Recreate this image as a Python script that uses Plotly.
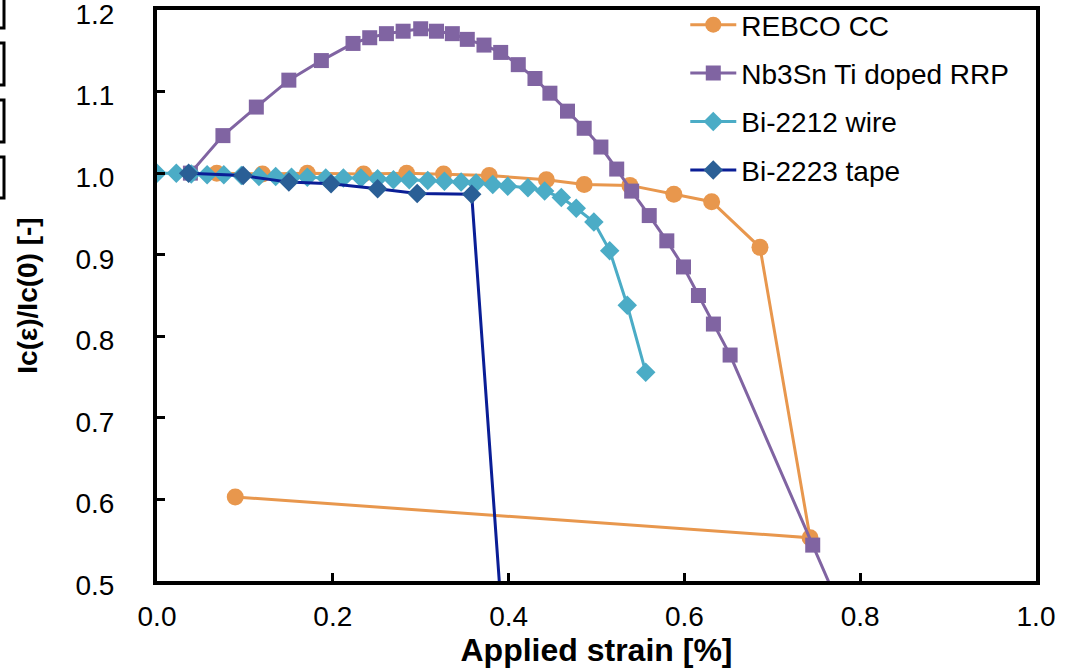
import plotly.graph_objects as go

# Critical current retention vs applied strain for four conductor types
rebco_strain = [0.068, 0.120, 0.171, 0.235, 0.284, 0.326, 0.378, 0.443, 0.486, 0.538,
                0.588, 0.631, 0.686, 0.743, 0.089]
rebco_ic = [1.000, 0.999, 1.000, 0.999, 1.000, 0.999, 0.997, 0.992, 0.986, 0.985,
            0.974, 0.965, 0.909, 0.553, 0.603]

nb3sn_strain = [0.038, 0.075, 0.113, 0.150, 0.187, 0.223, 0.242, 0.261, 0.280, 0.300,
                0.318, 0.336, 0.353, 0.372, 0.391, 0.411, 0.430, 0.447, 0.467, 0.486,
                0.505, 0.523, 0.540, 0.560, 0.580, 0.599, 0.616, 0.633, 0.652, 0.746,
                0.800]
nb3sn_ic = [1.000, 1.046, 1.081, 1.114, 1.138, 1.159, 1.166, 1.171, 1.174, 1.177,
            1.174, 1.171, 1.164, 1.157, 1.148, 1.133, 1.116, 1.098, 1.076, 1.055,
            1.032, 1.005, 0.978, 0.948, 0.917, 0.885, 0.850, 0.815, 0.777, 0.544,
            0.410]

bi2212_strain = [0.000, 0.022, 0.039, 0.057, 0.076, 0.096, 0.116, 0.135, 0.153, 0.171,
                 0.192, 0.212, 0.232, 0.251, 0.269, 0.287, 0.308, 0.327, 0.346, 0.363,
                 0.382, 0.399, 0.422, 0.441, 0.460, 0.477, 0.497, 0.515, 0.535, 0.556]
bi2212_ic = [1.000, 1.000, 0.999, 0.998, 0.998, 0.997, 0.996, 0.996, 0.995, 0.995,
             0.994, 0.994, 0.994, 0.993, 0.992, 0.992, 0.991, 0.990, 0.989, 0.988,
             0.986, 0.984, 0.982, 0.978, 0.970, 0.957, 0.940, 0.905, 0.838, 0.756]

bi2223_strain = [0.036, 0.098, 0.150, 0.198, 0.251, 0.296, 0.358, 0.396]
bi2223_ic = [1.000, 0.997, 0.989, 0.987, 0.981, 0.975, 0.974, 0.400]

x_ticks = [0.0, 0.2, 0.4, 0.6, 0.8, 1.0]
y_ticks = [0.5, 0.6, 0.7, 0.8, 0.9, 1.0, 1.1, 1.2]

FONT = "Liberation Sans, Arial, sans-serif"

fig = go.Figure()
fig.add_trace(go.Scatter(
    x=rebco_strain, y=rebco_ic, name="REBCO CC", mode="lines+markers",
    legendgroup="a",
    line=dict(color="#e8974d", width=3),
    marker=dict(symbol="circle", size=17, color="#e8974d")))
fig.add_trace(go.Scatter(
    x=nb3sn_strain, y=nb3sn_ic, name="Nb3Sn Ti doped RRP", mode="lines+markers",
    legendgroup="b",
    line=dict(color="#8064a2", width=3),
    marker=dict(symbol="square", size=15, color="#8064a2")))
fig.add_trace(go.Scatter(
    x=bi2212_strain, y=bi2212_ic, name="Bi-2212 wire", mode="lines+markers",
    legendgroup="c",
    line=dict(color="#4bacc6", width=3),
    marker=dict(symbol="diamond", size=15, color="#4bacc6")))
fig.add_trace(go.Scatter(
    x=bi2223_strain, y=bi2223_ic, name="Bi-2223 tape", mode="lines+markers",
    legendgroup="d",
    line=dict(color="#0a1e96", width=3),
    marker=dict(symbol="diamond", size=15, color="#2a5f96")))

# partial frames at the far left edge
L, R, T, B = 157, 1036, 10, 581
def px_x(p):
    return (p - L) / (R - L)
def px_y(p):
    return (B - p) / (B - T)
for top, bottom in [(-6, 28), (43, 85), (100, 142), (157, 198)]:
    fig.add_shape(type="rect", xref="paper", yref="paper",
                  x0=px_x(-30), x1=px_x(4), y0=px_y(bottom), y1=px_y(top),
                  line=dict(color="black", width=3), layer="above")

fig.update_layout(
    width=1068, height=669,
    margin=dict(l=L, r=1068 - R, t=T, b=669 - B, autoexpand=False),
    paper_bgcolor="white", plot_bgcolor="white",
    font=dict(family=FONT, size=28, color="black"),
    showlegend=True,
    legend=dict(x=0.601, y=1.0 + 7 / 669, xanchor="left", yanchor="top",
                yref="container",
                bgcolor="rgba(0,0,0,0)", font=dict(size=28, family=FONT),
                itemwidth=46, tracegroupgap=9),
)
fig.update_xaxes(
    range=[0, 1.0], tickvals=x_ticks, ticktext=[f"{v:.1f}" for v in x_ticks],
    showgrid=False, zeroline=False, automargin=False,
    showline=True, linecolor="black", linewidth=4, mirror=True,
    ticks="inside", ticklen=8, tickwidth=3, tickcolor="black",
    ticklabelstandoff=7, ticklabeloverflow="allow",
    title=dict(text="<b>Applied strain [%]</b>", font=dict(size=32, family=FONT), standoff=0),
)
fig.update_yaxes(
    range=[0.5, 1.2], tickvals=y_ticks, ticktext=[f"{v:.1f}" for v in y_ticks],
    showgrid=False, zeroline=False, automargin=False,
    showline=True, linecolor="black", linewidth=4, mirror=True,
    ticks="inside", ticklen=8, tickwidth=3, tickcolor="black",
    ticklabelstandoff=33, ticklabelshift=4, ticklabeloverflow="allow",
    title=dict(text="<b>Ic(ε)/Ic(0) [-]</b>", font=dict(size=28, family=FONT), standoff=31),
)

fig.write_html("out.html")
